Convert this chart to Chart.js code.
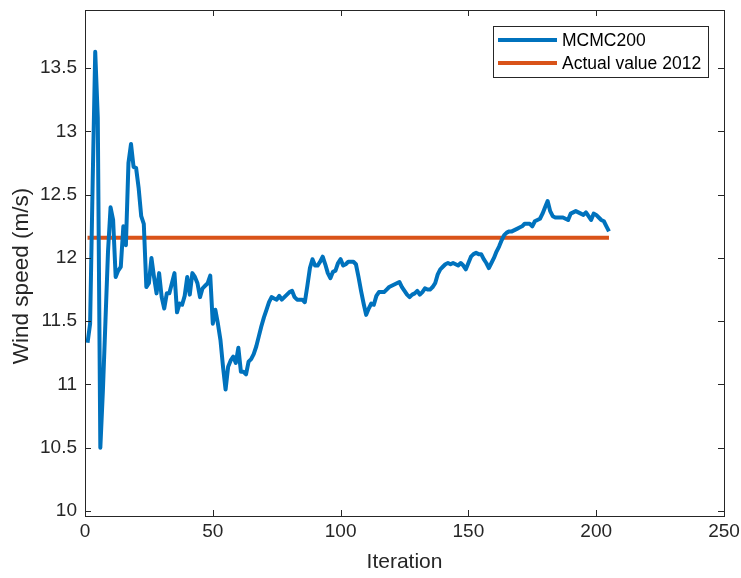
<!DOCTYPE html>
<html>
<head>
<meta charset="utf-8">
<script src="https://cdn.jsdelivr.net/npm/chart.js@4.4.1/dist/chart.umd.min.js"></script>
<style>
  html, body { margin: 0; padding: 0; background: #fff; }
  #wrap { position: relative; width: 741px; height: 578px; }
</style>
</head>
<body>
<div id="wrap"><canvas id="chart"></canvas></div>
<script>
// Iterations 1..205
const iterations = Array.from({ length: 205 }, (_, k) => k + 1);

// MCMC200 estimates
const mcmc200 = [
  11.33, 11.48, 12.60, 13.63, 13.11, 10.50, 10.95, 11.50, 12.05, 12.40,
  12.30, 11.85, 11.90, 11.93, 12.25, 12.10, 12.75, 12.90, 12.72, 12.71,
  12.55, 12.33, 12.27, 11.77, 11.80, 12.00, 11.85, 11.72, 11.88, 11.69,
  11.60, 11.72, 11.72, 11.80, 11.88, 11.57, 11.64, 11.63, 11.70, 11.85,
  11.71, 11.88, 11.85, 11.80, 11.69, 11.76, 11.78, 11.80, 11.86, 11.48,
  11.59, 11.48, 11.35, 11.14, 10.96, 11.14, 11.19, 11.22, 11.17, 11.29,
  11.10, 11.10, 11.08, 11.18, 11.20, 11.24, 11.30, 11.38, 11.46, 11.53,
  11.59, 11.65, 11.69, 11.68, 11.67, 11.70, 11.67, 11.69, 11.71, 11.73,
  11.74, 11.69, 11.67, 11.67, 11.67, 11.65, 11.78, 11.92, 11.99, 11.94,
  11.94, 11.97, 12.01, 11.95, 11.88, 11.84, 11.89, 11.90, 11.96, 11.99,
  11.94, 11.95, 11.97, 11.97, 11.97, 11.95, 11.85, 11.74, 11.64, 11.55,
  11.60, 11.64, 11.63, 11.70, 11.73, 11.73, 11.73, 11.75, 11.77, 11.78,
  11.79, 11.80, 11.81, 11.77, 11.74, 11.71, 11.69, 11.71, 11.72, 11.74,
  11.71, 11.73, 11.76, 11.75, 11.75, 11.77, 11.80, 11.87, 11.91, 11.93,
  11.95, 11.96, 11.95, 11.96, 11.95, 11.94, 11.96, 11.94, 11.91, 11.96,
  12.01, 12.03, 12.04, 12.03, 12.03, 11.99, 11.96, 11.92, 11.96, 12.00,
  12.05, 12.09, 12.14, 12.18, 12.20, 12.21, 12.21, 12.22, 12.23, 12.24,
  12.25, 12.27, 12.27, 12.27, 12.25, 12.29, 12.30, 12.31, 12.35, 12.40,
  12.45, 12.37, 12.33, 12.32, 12.32, 12.32, 12.32, 12.31, 12.30, 12.35,
  12.36, 12.37, 12.36, 12.35, 12.34, 12.36, 12.33, 12.30, 12.35, 12.34,
  12.32, 12.30, 12.29, 12.25, 12.21
];

// Actual value 2012 (flat reference line)
const actualIterations = [1, 205];
const actualValue = 12.16;

const xTicks = [0, 50, 100, 150, 200, 250];
const yTicks = [10, 10.5, 11, 11.5, 12, 12.5, 13, 13.5];
const yTitle = 'Wind speed (m/s)';

const axisColor = '#262626';
const fontFamily = '"Liberation Sans", Arial, Helvetica, sans-serif';

// Box round the axes with inward ticks on all four sides (MATLAB style)
const boxPlugin = {
  id: 'box',
  afterDatasetsDraw(chart) {
    const { ctx, chartArea: a, scales } = chart;
    const len = 6;
    ctx.save();
    ctx.strokeStyle = axisColor;
    ctx.lineWidth = 1;
    ctx.beginPath();
    scales.x.ticks.forEach(t => {
      const px = Math.round(scales.x.getPixelForValue(t.value)) + 0.5;
      ctx.moveTo(px, a.bottom); ctx.lineTo(px, a.bottom - len);
      ctx.moveTo(px, a.top); ctx.lineTo(px, a.top + len);
    });
    scales.y.ticks.forEach(t => {
      const py = Math.round(scales.y.getPixelForValue(t.value)) + 0.5;
      ctx.moveTo(a.left, py); ctx.lineTo(a.left + len, py);
      ctx.moveTo(a.right, py); ctx.lineTo(a.right - len, py);
    });
    ctx.stroke();
    ctx.strokeRect(Math.round(a.left) + 0.5, Math.round(a.top) + 0.5,
      Math.round(a.right - a.left), Math.round(a.bottom - a.top));

    // y-axis title, sitting a little below the middle as in the source figure
    ctx.fillStyle = axisColor;
    ctx.font = '22.5px ' + fontFamily;
    ctx.textAlign = 'center';
    ctx.textBaseline = 'middle';
    ctx.translate(22, (a.top + a.bottom) / 2 + 13);
    ctx.rotate(-Math.PI / 2);
    ctx.fillText(yTitle, 0, 0);
    ctx.restore();
  }
};

// Legend inside the axes, upper right
const legendPlugin = {
  id: 'insideLegend',
  afterDraw(chart) {
    const { ctx, chartArea: a } = chart;
    const boxW = 215, boxH = 51;
    const bx = a.right - 16 - boxW, by = a.top + 16;
    ctx.save();
    ctx.fillStyle = '#fff';
    ctx.fillRect(bx, by, boxW, boxH);
    ctx.strokeStyle = axisColor;
    ctx.lineWidth = 1;
    ctx.strokeRect(bx + 0.5, by + 0.5, boxW, boxH);
    ctx.font = '17.5px ' + fontFamily;
    ctx.textBaseline = 'middle';
    chart.data.datasets.forEach((ds, i) => {
      const y = by + 14 + i * 23;
      ctx.strokeStyle = ds.borderColor;
      ctx.lineWidth = 4;
      ctx.beginPath();
      ctx.moveTo(bx + 5, y); ctx.lineTo(bx + 64, y);
      ctx.stroke();
      ctx.fillStyle = '#000';
      ctx.fillText(ds.label, bx + 69, y + 1);
    });
    ctx.restore();
  }
};

new Chart(document.getElementById('chart'), {
  type: 'line',
  data: {
    datasets: [
      {
        label: 'MCMC200',
        data: iterations.map((it, k) => ({ x: it, y: mcmc200[k] })),
        borderColor: '#0072BD',
        borderWidth: 4,
        pointRadius: 0,
        tension: 0,
        borderJoinStyle: 'round'
      },
      {
        label: 'Actual value 2012',
        data: actualIterations.map(it => ({ x: it, y: actualValue })),
        borderColor: '#D95319',
        borderWidth: 4,
        pointRadius: 0
      }
    ]
  },
  options: {
    responsive: true,
    maintainAspectRatio: false,
    animation: false,
    layout: { padding: { top: 10, right: 17, left: 0, bottom: 0 } },
    plugins: { legend: { display: false }, tooltip: { enabled: false } },
    scales: {
      x: {
        type: 'linear',
        min: 0,
        max: 250,
        afterBuildTicks: s => { s.ticks = xTicks.map(v => ({ value: v })); },
        afterFit: s => { s.height = 62; s.paddingLeft = 0; s.paddingRight = 0; },
        grid: { display: false, drawTicks: false },
        border: { display: false },
        ticks: {
          padding: 4,
          color: axisColor,
          font: { family: fontFamily, size: 19 },
          maxRotation: 0,
          callback: v => String(v)
        },
        title: {
          display: true,
          text: 'Iteration',
          color: axisColor,
          font: { family: fontFamily, size: 21 },
          padding: { top: 0, bottom: 3 }
        }
      },
      y: {
        type: 'linear',
        min: 9.96,
        max: 13.96,
        afterBuildTicks: s => { s.ticks = yTicks.map(v => ({ value: v })); },
        afterFit: s => { s.width = 85; s.paddingTop = 0; s.paddingBottom = 0; },
        grid: { display: false, drawTicks: false },
        border: { display: false },
        ticks: {
          padding: 8,
          color: axisColor,
          font: { family: fontFamily, size: 19 },
          callback: v => String(v)
        }
      }
    }
  },
  plugins: [boxPlugin, legendPlugin]
});
</script>
</body>
</html>
